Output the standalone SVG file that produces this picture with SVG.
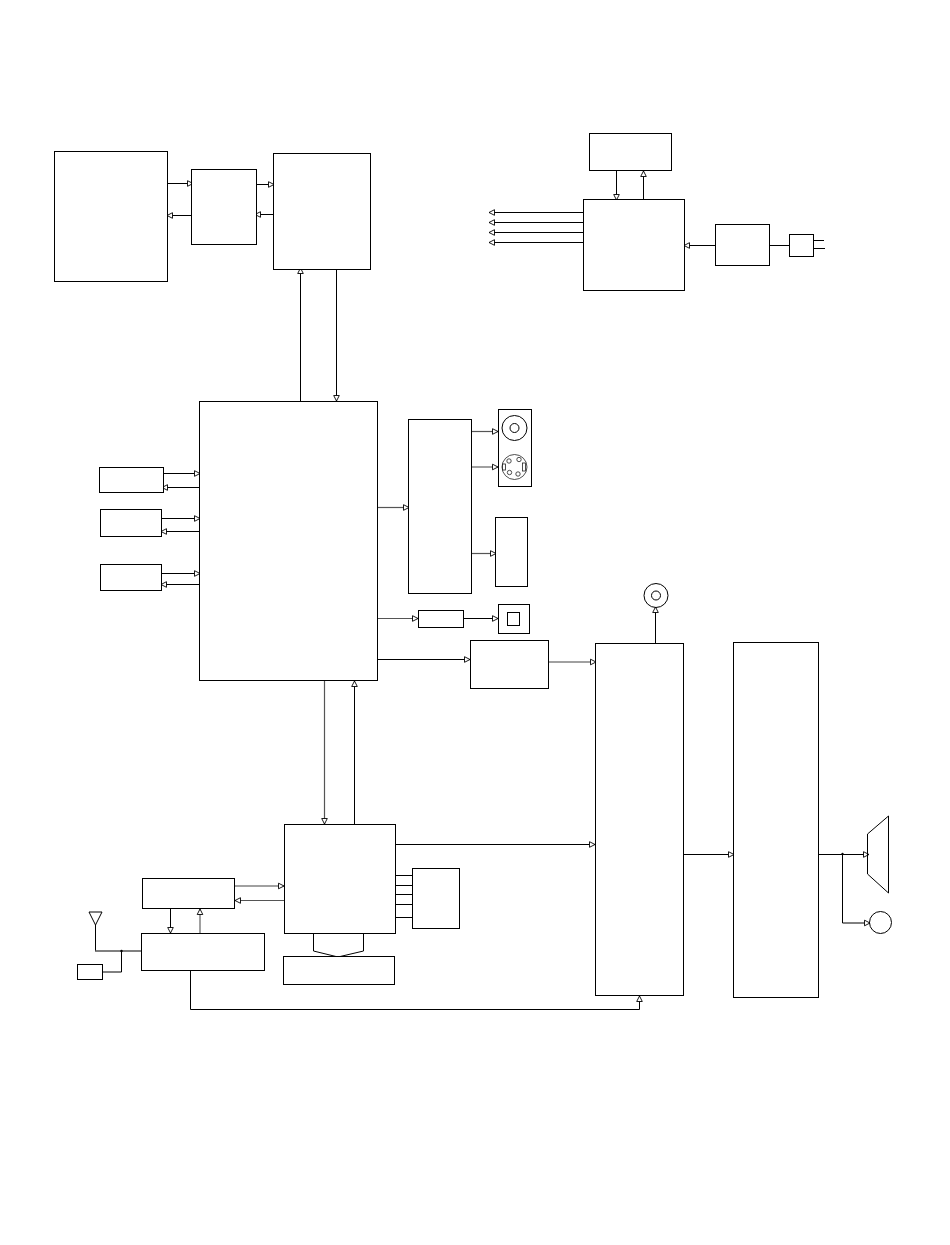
<svg xmlns="http://www.w3.org/2000/svg" width="950" height="1245" viewBox="0 0 950 1245">
<style>
.b{fill:#fff;stroke:#000;stroke-width:1}
.o{fill:none;stroke:#000;stroke-width:1}
.w{stroke-width:.8;fill:none;stroke:#222}
#connectors path{fill:none;stroke:#000;stroke-width:1;marker-end:url(#a)}
#connectors path.n{marker-end:none}
#connectors path.g{stroke:#a0a0a0;stroke-width:2}
#connectors path.h{stroke:#555;stroke-width:1.2}
</style>
<defs>
<marker id="a" markerUnits="userSpaceOnUse" markerWidth="9" markerHeight="9" refX="6.5" refY="4" orient="auto" overflow="visible">
<path d="M1,1.2 L6.5,4 L1,6.8 Z" fill="#fff" stroke="#000" stroke-width=".9"/>
</marker>
</defs>
<rect width="950" height="1245" fill="#fff"/>
<g id="connectors">
<path d="M168 183.500H193"/>
<path d="M191 215.500H167"/>
<path d="M257 184.500H274"/>
<path d="M273 214.500H255"/>
<path d="M300.500 401V268"/>
<path d="M336.500 270V401"/>
<path d="M616.500 171V200"/>
<path d="M643.500 199V171"/>
<path d="M583 212.500H489"/>
<path d="M583 222.500H489"/>
<path d="M583 232.500H489"/>
<path d="M583 242.500H489"/>
<path d="M715 245.500H684"/>
<path class="n" d="M770 245.500H789"/>
<path class="n" d="M814 240.500H824"/>
<path class="n" d="M814 248.500H825"/>
<path d="M164 473.500H200"/>
<path d="M199 487.500H162"/>
<path d="M162 518.500H200"/>
<path d="M199 531.500H161"/>
<path d="M162 573.500H200"/>
<path d="M199 584.500H161"/>
<path class="h" d="M378 507.500H409"/>
<path class="h" d="M472 431.500H498"/>
<path class="g" d="M472 467H498"/>
<path class="h" d="M472 553.500H496"/>
<path class="h" d="M378 618.500H418"/>
<path d="M464 618.500H498"/>
<path d="M378 659.500H470"/>
<path class="g" d="M549 662H596"/>
<path d="M655.500 643V607"/>
<path class="h" d="M324.500 681V824"/>
<path d="M354.500 824V681"/>
<path d="M396 844.500H595"/>
<path d="M684 854.500H734"/>
<path d="M819 854.500H869"/>
<path d="M842.500 854V923H870"/>
<path class="g" d="M235 886H284"/>
<path class="h" d="M284 900.500H235"/>
<path d="M170.500 909V933"/>
<path class="g" d="M200 933V909"/>
<path class="n" d="M396 875.500H412"/>
<path class="n" d="M396 885.500H412"/>
<path class="n" d="M396 894.500H412"/>
<path class="n" d="M396 904.500H412"/>
<path class="n" d="M396 917.500H412"/>
<path class="n" d="M95.500 925V951"/>
<path class="n" d="M95 951H141" style="stroke:#555;stroke-width:1.300"/>
<path class="n" d="M121.500 951V972H103"/>
<path d="M190.500 971V1009.500H639.500V996"/>
<circle cx="121.500" cy="951" r="1.200" fill="#000"/>
<circle cx="842.500" cy="854" r="1.200" fill="#000"/>
</g>
<g id="n1"><rect class="b" x="54.500" y="151.500" width="113" height="130"/></g>
<g id="n2"><rect class="b" x="191.500" y="169.500" width="65" height="75"/></g>
<g id="n3"><rect class="b" x="273.500" y="153.500" width="97" height="116"/></g>
<g id="n4"><rect class="b" x="589.500" y="133.500" width="82" height="37"/></g>
<g id="n5"><rect class="b" x="583.500" y="199.500" width="101" height="91"/></g>
<g id="n6"><rect class="b" x="715.500" y="224.500" width="54" height="41"/></g>
<g id="n7"><rect class="b" x="789.500" y="234.500" width="24" height="22"/></g>
<g id="n8"><rect class="b" x="199.500" y="401.500" width="178" height="279"/></g>
<g id="n9"><rect class="b" x="99.500" y="467.500" width="64" height="25"/></g>
<g id="n10"><rect class="b" x="100.500" y="509.500" width="61" height="27"/></g>
<g id="n11"><rect class="b" x="100.500" y="564.500" width="61" height="26"/></g>
<g id="n12"><rect class="b" x="408.500" y="419.500" width="63" height="174"/></g>
<g id="n13">
<rect class="b" x="498.500" y="409.500" width="33" height="77"/>
<circle class="o" cx="514.500" cy="428" r="12.500"/>
<circle class="o" cx="514.500" cy="428" r="4.500"/>
<circle class="w" cx="514.500" cy="467" r="12.500"/>
<circle class="w" cx="509" cy="461" r="2.200"/>
<circle class="w" cx="519" cy="459.500" r="2.200"/>
<circle class="w" cx="509.500" cy="472.500" r="2.200"/>
<circle class="w" cx="518" cy="474" r="2.200"/>
<rect class="w" x="502.500" y="464" width="3" height="6"/>
<rect class="w" x="522.500" y="463" width="3" height="8"/>
</g>
<g id="n14"><rect class="b" x="495.500" y="517.500" width="32" height="69"/></g>
<g id="n15"><rect class="b" x="418.500" y="610.500" width="45" height="17"/></g>
<g id="n16"><rect class="b" x="498.500" y="604.500" width="31" height="29"/><rect class="b" x="507.500" y="612.500" width="12" height="13"/></g>
<g id="n17"><rect class="b" x="470.500" y="640.500" width="78" height="48"/></g>
<g id="n18"><circle class="o" cx="656" cy="595.500" r="12"/><circle class="o" cx="656" cy="595.500" r="4.500"/></g>
<g id="n19"><rect class="b" x="595.500" y="643.500" width="88" height="352"/></g>
<g id="n20"><rect class="b" x="733.500" y="642.500" width="85" height="355"/></g>
<g id="n21"><path class="o" d="M867.500 834L888.500 816V893L867.500 874Z"/></g>
<g id="n22"><circle class="o" cx="880.500" cy="922.500" r="11"/></g>
<g id="n23"><rect class="b" x="284.500" y="824.500" width="111" height="109"/></g>
<g id="n24"><rect class="b" x="412.500" y="868.500" width="47" height="60"/></g>
<g id="n25"><path class="o" d="M313.500 934V951L338 957L363.500 951V934"/></g>
<g id="n26"><rect class="b" x="283.500" y="956.500" width="111" height="28"/></g>
<g id="n27"><rect class="b" x="142.500" y="878.500" width="92" height="30"/></g>
<g id="n28"><rect class="b" x="141.500" y="933.500" width="123" height="37"/></g>
<g id="n29"><rect class="b" x="77.500" y="964.500" width="25" height="15"/></g>
<g id="n30"><path class="o" d="M89 912H102L95.500 925Z"/></g>
</svg>
